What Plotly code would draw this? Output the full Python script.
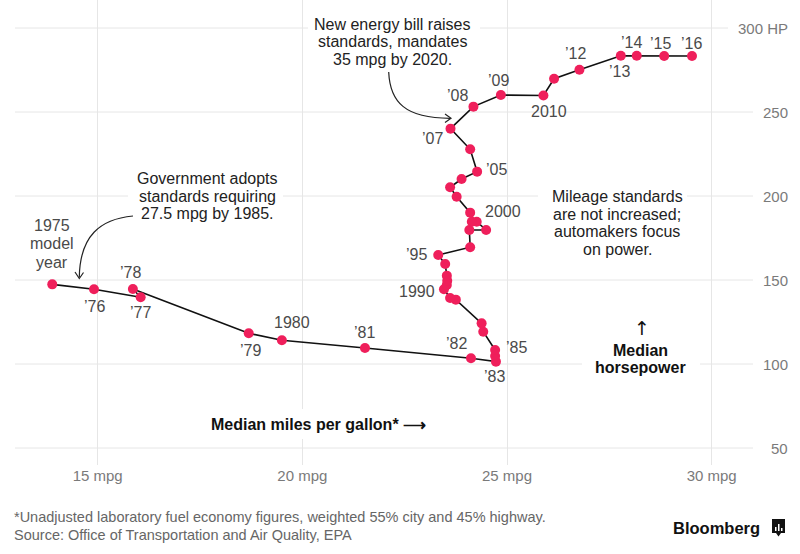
import plotly.graph_objects as go

# ---------------- data ----------------
years = list(range(1975, 2017))
mpg = [13.89, 14.91, 16.05, 15.86, 18.69, 19.50, 21.53, 24.12, 24.73, 24.71,
       24.71, 24.42, 24.38, 23.75, 23.61, 23.46, 23.53, 23.54, 23.53, 23.49,
       23.32, 24.10, 24.08, 24.49, 24.26, 24.14, 24.10, 23.77, 23.61, 23.89,
       24.27, 24.10, 23.62, 24.18, 24.85, 25.89, 26.15, 26.77, 27.78, 28.17,
       28.84, 29.52]
hp = [147.4, 144.5, 139.7, 144.6, 118.3, 114.1, 109.5, 103.4, 101.4, 104.8,
      108.3, 119.2, 124.2, 138.3, 139.3, 144.5, 147.0, 149.6, 152.6, 159.5,
      164.9, 169.5, 179.8, 179.8, 184.7, 184.7, 190.1, 199.6, 205.2, 210.1,
      214.5, 227.8, 240.1, 253.2, 260.1, 259.8, 269.8, 275.2, 283.5, 283.5,
      283.3, 283.3]

label_years = [1976, 1977, 1978, 1979, 1980, 1981, 1982, 1983, 1985, 1990,
               1995, 2000, 2005, 2007, 2008, 2009, 2010, 2012, 2013, 2014,
               2015, 2016]
label_texts = ["’76", "’77", "’78", "’79", "1980", "’81", "’82", "’83", "’85",
               "1990", "’95", "2000", "’05", "’07", "’08", "’09", "2010",
               "’12", "’13", "’14", "’15", "’16"]
# label offsets in pixels (dx right, dy down)
label_dx = [0, 0, -2, 2, 10, 0, -14, -1, 21, -27, -22, 31, 19, -18, -16, -2, 6, -4, -1, -5, -4, -1]
label_dy = [17, 15, -17, 17, -18, -16, -15, 15, -3, 2, 0, -10, -2, 10, -11, -15, 16, -16, 16, -13, -13, -13]

x_ticks = [15, 20, 25, 30]
x_ticktext = ["15 mpg", "20 mpg", "25 mpg", "30 mpg"]
y_ticks = [50, 100, 150, 200, 250, 300]
y_ticktext = ["50", "100", "150", "200", "250", "300 HP"]

X_RANGE = [12.98, 31.01]
Y_RANGE = [39.88, 316.67]

# ---------------- layout helpers (pixel -> paper) ----------------
W, H = 800, 554
PL, PR, PT, PB = 15, 753, 0, 465


def px(x):
    return (x - PL) / (PR - PL)


def py(y):
    return (PB - y) / (PB - PT)


FONT = "Liberation Sans, Arial, Helvetica, sans-serif"
PINK = "#ef1f5b"

fig = go.Figure()
fig.add_trace(go.Scatter(
    x=mpg, y=hp, mode="lines+markers",
    line=dict(color="#111111", width=1.6),
    marker=dict(color=PINK, size=10, line=dict(width=0)),
    hoverinfo="skip", cliponaxis=False,
))

shapes = []
# horizontal gridlines
for v in y_ticks:
    shapes.append(dict(type="line", xref="paper", yref="y",
                       x0=0, x1=(1 if v != 300 else px(728)), y0=v, y1=v,
                       line=dict(color="#e6e6e6", width=1), layer="below"))

# white boxes behind notes
for (x0, y0, x1, y1) in [(128, 168, 283, 224), (308, 12, 480, 68),
                         (538, 186, 687, 260), (582, 316, 700, 376),
                         (200, 409, 436, 439)]:
    shapes.append(dict(type="rect", xref="paper", yref="paper",
                       x0=px(x0), x1=px(x1), y0=py(y1), y1=py(y0),
                       fillcolor="white", line=dict(width=0), layer="above"))


def path_from(points_cmds):
    s = ""
    for cmd, pts in points_cmds:
        s += cmd + " " + " ".join(f"{px(a):.5f},{py(b):.5f}" for a, b in pts) + " "
    return s.strip()


curve_style = dict(type="path", xref="paper", yref="paper",
                   line=dict(color="#222222", width=1.2), layer="above")
# arrow 1 (Government ...)
shapes.append(dict(path=path_from([("M", [(133, 216)]),
                                   ("C", [(100, 219), (80, 236), (79.3, 277)])]),
                   **curve_style))
shapes.append(dict(path=path_from([("M", [(75, 272)]), ("L", [(79.3, 278.5)]),
                                   ("L", [(83.5, 272.5)])]), **curve_style))
# arrow 2 (New energy bill ...)
shapes.append(dict(path=path_from([("M", [(388.7, 72)]),
                                   ("C", [(390, 102), (405, 118.3), (450, 118.3)])]),
                   **curve_style))
shapes.append(dict(path=path_from([("M", [(445, 114)]), ("L", [(451, 118.3)]),
                                   ("L", [(445, 122.6)])]), **curve_style))

# Bloomberg icon
shapes.append(dict(type="path", xref="paper", yref="paper",
                   path=path_from([("M", [(772, 519)]), ("L", [(785, 519)]),
                                   ("L", [(785, 533)]), ("L", [(781, 533)]),
                                   ("L", [(778.5, 536.5)]), ("L", [(776, 533)]),
                                   ("L", [(772, 533)])]) + " Z",
                   fillcolor="#111111", line=dict(width=0), layer="above"))
for (bx, top) in [(775, 527), (778, 524), (781, 528)]:
    shapes.append(dict(type="rect", xref="paper", yref="paper",
                       x0=px(bx), x1=px(bx + 1.5), y0=py(531), y1=py(top),
                       fillcolor="white", line=dict(width=0), layer="above"))

annotations = []


def note(text, x, y, size=16, color="#222222", bold=False, xanchor="center", family=FONT):
    t = f"<b>{text}</b>" if bold else text
    annotations.append(dict(text=t, xref="paper", yref="paper", x=px(x), y=py(y),
                            xanchor=xanchor, yanchor="middle", showarrow=False,
                            font=dict(family=family, size=size, color=color)))


# data point labels
for yr, t, dx, dy in zip(label_years, label_texts, label_dx, label_dy):
    i = years.index(yr)
    annotations.append(dict(text=t, x=mpg[i], y=hp[i], xref="x", yref="y",
                            xshift=dx, yshift=-dy, showarrow=False,
                            xanchor="center", yanchor="middle",
                            font=dict(family=FONT, size=16, color="#4a4a4a")))

# 1975 model year
for t, yy in zip(["1975", "model", "year"], [226, 244, 262]):
    note(t, 52, yy, color="#4a4a4a")

# notes
for t, yy in zip(["Government adopts", "standards requiring", "27.5 mpg by 1985."],
                 [178.3, 196, 213.5]):
    note(t, 207, yy)
for t, yy in zip(["New energy bill raises", "standards, mandates", "35 mpg by 2020."],
                 [24, 41.7, 59.3]):
    note(t, 392.5, yy)
for t, yy in zip(["Mileage standards", "are not increased;", "automakers focus", "on power."],
                 [196.7, 214.3, 231.9, 249.5]):
    note(t, 617, yy)

note("↑", 641.5, 328, size=19, color="#111111", family="DejaVu Sans")
note("Median", 640, 350, bold=True, color="#111111")
note("horsepower", 640, 367, bold=True, color="#111111")
note("Median miles per gallon* ⟶", 318, 424, bold=True, color="#111111")

# y tick labels (right aligned)
for v, t in zip(y_ticks, y_ticktext):
    annotations.append(dict(text=t, xref="paper", yref="y", x=px(790), y=v,
                            xanchor="right", yanchor="middle", showarrow=False,
                            font=dict(family=FONT, size=15, color="#7a7a7a")))

# footer
note("*Unadjusted laboratory fuel economy figures, weighted 55% city and 45% highway.",
     12, 517, size=14.5, color="#666666", xanchor="left")
note("Source: Office of Transportation and Air Quality, EPA",
     12, 535, size=14.5, color="#666666", xanchor="left")
note("Bloomberg", 671, 527.5, size=16.5, bold=True, color="#111111", xanchor="left")

fig.update_layout(
    width=W, height=H,
    margin=dict(l=PL, r=W - PR, t=PT, b=H - PB, pad=0),
    paper_bgcolor="white", plot_bgcolor="white",
    showlegend=False,
    font=dict(family=FONT),
    xaxis=dict(range=X_RANGE, tickvals=x_ticks, ticktext=x_ticktext,
               showgrid=True, gridcolor="#e6e6e6", gridwidth=1,
               zeroline=False, showline=False, ticks="",
               tickfont=dict(family=FONT, size=15, color="#7a7a7a"),
               fixedrange=True),
    yaxis=dict(range=Y_RANGE, showgrid=False, showticklabels=False,
               zeroline=False, showline=False, ticks="", fixedrange=True),
    shapes=shapes,
    annotations=annotations,
)

fig.write_html("out.html")
